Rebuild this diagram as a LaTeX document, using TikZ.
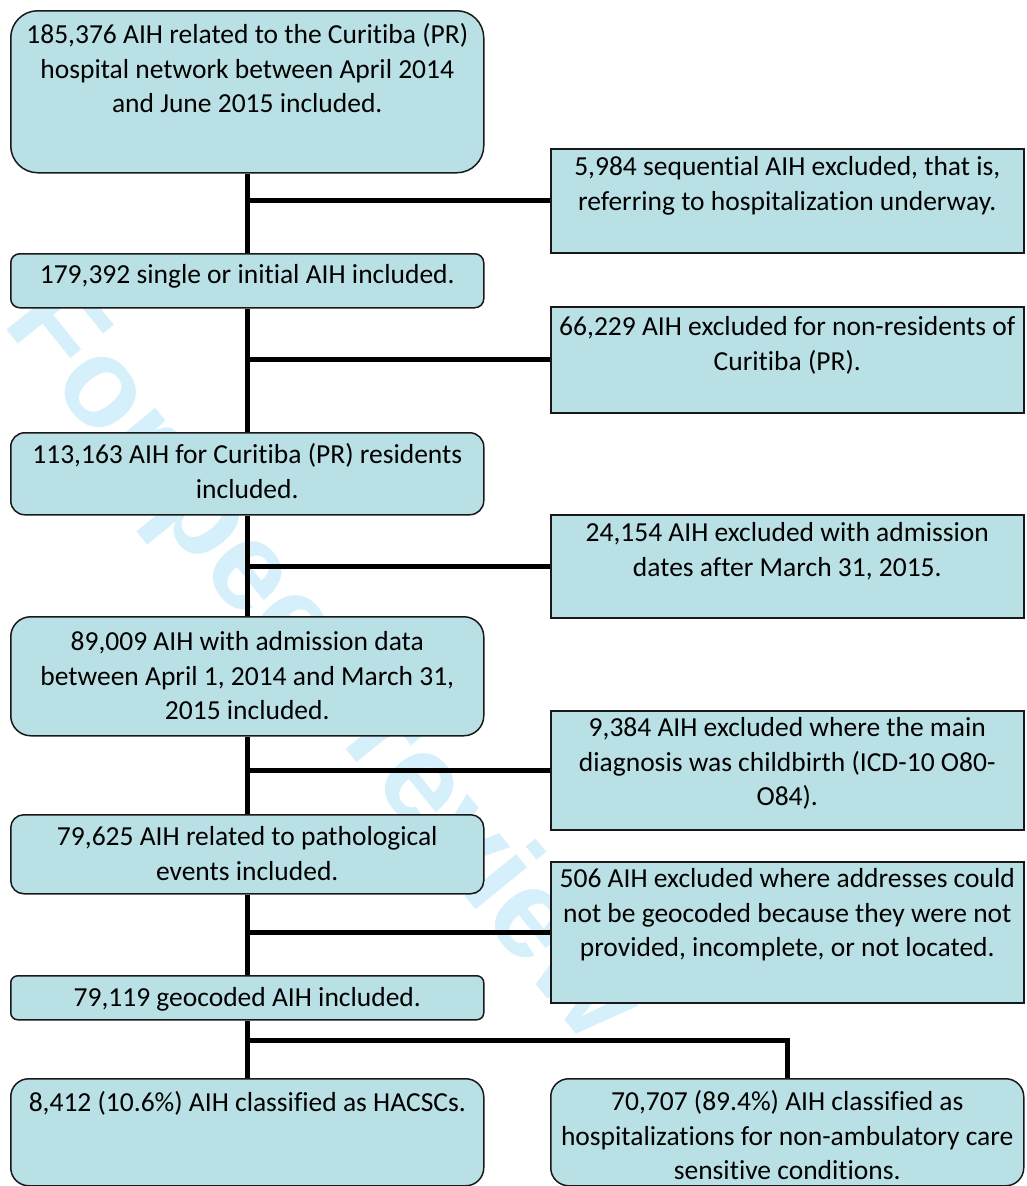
\documentclass[tikz,border=0pt]{standalone}
\usepackage{fontspec}
\setmainfont{Carlito}[Ligatures={NoCommon,NoRequired}]
\newfontfamily\wmfont{Liberation Sans}
\definecolor{boxfill}{RGB}{185,224,228}
\definecolor{wmcol}{RGB}{214,240,251}
\newcommand\boxtxt[4]{\begin{minipage}[c][#2bp][t]{#1bp}\centering\rule{0pt}{#3bp}#4\end{minipage}}
\tikzset{
  flowbox/.style={draw=black!90, line width=1.5bp, fill=boxfill, inner sep=0pt, anchor=north west,
    font=\fontsize{27.5bp}{34.5bp}\selectfont},
  conn/.style={line width=5bp, draw=black},
  wmark/.style={text=wmcol, font=\wmfont\bfseries\fontsize{126bp}{130bp}\selectfont, inner sep=0pt}
}
\begin{document}
\begin{tikzpicture}[x=1bp,y=-1bp]
\useasboundingbox (0,0) rectangle (1027,1186);
\node[wmark, rotate=-51] (wm) at (320,665) {For peer review};
% left column
\node[flowbox, rounded corners=27bp] (a) at (10,10) {\boxtxt{473}{162}{33}{185,376 AIH related to the Curitiba (PR)\\hospital network between April 2014\\and June 2015 included.}};
\node[flowbox, rounded corners=9bp] (b) at (10,253) {\boxtxt{473}{54}{30}{179,392 single or initial AIH included.}};
\node[flowbox, rounded corners=14bp] (c) at (10,432) {\boxtxt{473}{82}{31}{113,163 AIH for Curitiba (PR) residents\\included.}};
\node[flowbox, rounded corners=20bp] (d) at (10,616) {\boxtxt{473}{119}{34}{89,009 AIH with admission data\\between April 1, 2014 and March 31,\\2015 included.}};
\node[flowbox, rounded corners=13bp] (e) at (10,814) {\boxtxt{473}{79}{31}{79,625 AIH related to pathological\\events included.}};
\node[flowbox, rounded corners=7bp] (f) at (10,975) {\boxtxt{473}{44}{31}{79,119 geocoded AIH included.}};
\node[flowbox, rounded corners=18bp] (g) at (10,1078) {\boxtxt{473}{107}{33}{8,412 (10.6\%) AIH classified as HACSCs.}};
% right column
\node[flowbox] (r1) at (550,148) {\boxtxt{473}{104}{27}{5,984 sequential AIH excluded, that is,\\referring to hospitalization underway.}};
\node[flowbox] (r2) at (550,306) {\boxtxt{473}{106}{29}{66,229 AIH excluded for non-residents of\\Curitiba (PR).}};
\node[flowbox] (r3) at (550,514) {\boxtxt{473}{103}{27}{24,154 AIH excluded with admission\\dates after March 31, 2015.}};
\node[flowbox] (r4) at (550,710) {\boxtxt{473}{119}{26}{9,384 AIH excluded where the main\\diagnosis was childbirth (ICD-10 O80-\\O84).}};
\node[flowbox] (r5) at (550,861) {\boxtxt{473}{141}{26}{506 AIH excluded where addresses could\\not be geocoded because they were not\\provided, incomplete, or not located.}};
\node[flowbox, rounded corners=18bp] (h) at (550,1078) {\boxtxt{473}{107}{32}{70,707 (89.4\%) AIH classified as\\hospitalizations for non-ambulatory care\\sensitive conditions.}};
% connectors
\draw[conn] (a.south) -- (b.north);
\draw[conn] (b.south) -- (c.north);
\draw[conn] (c.south) -- (d.north);
\draw[conn] (d.south) -- (e.north);
\draw[conn] (e.south) -- (f.north);
\draw[conn] (f.south) -- (g.north);
\draw[conn] (a.south |- r1.west) -- (r1.west);
\draw[conn] (b.south |- r2.west) -- (r2.west);
\draw[conn] (c.south |- r3.west) -- (r3.west);
\draw[conn] (d.south |- r4.west) -- (r4.west);
\draw[conn] (e.south |- r5.west) -- (r5.west);
\coordinate (br) at (246.5,1040);
\draw[conn] (br) -- (br -| h.north) -- (h.north);
\end{tikzpicture}
\end{document}
